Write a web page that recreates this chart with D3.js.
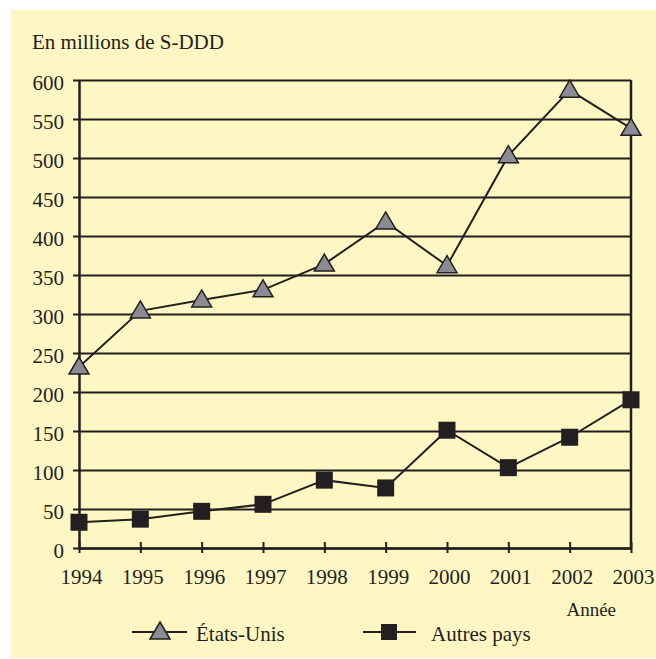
<!DOCTYPE html>
<html>
<head>
<meta charset="utf-8">
<script src="https://cdn.jsdelivr.net/npm/d3@7"></script>
<style>
  body { margin: 0; background: #fff; }
  text { font-family: "Liberation Serif", "Times New Roman", serif; fill: #231f20; }
</style>
</head>
<body>
<div id="chart"></div>
<script>
var years = [1994, 1995, 1996, 1997, 1998, 1999, 2000, 2001, 2002, 2003];
var etatsUnis = [232, 304, 318, 331, 364, 418, 362, 503, 587, 538];
var autresPays = [33, 37, 47, 56, 87, 77, 151, 103, 142, 190];
var yTicks = [0, 50, 100, 150, 200, 250, 300, 350, 400, 450, 500, 550, 600];

var W = 656, H = 659;
var ink = '#231f20';
var margin = { left: 79, top: 80, right: 25, bottom: 111 };
var width = W - margin.left - margin.right,
  height = H - margin.top - margin.bottom;

var root = d3.select('#chart').append('svg').attr('width', W).attr('height', H);

root.append('rect')
  .attr('x', 11).attr('y', 10)
  .attr('width', W - 11).attr('height', 648)
  .attr('fill', '#fff7c3');

root.append('text')
  .attr('x', 32).attr('y', 49)
  .style('font-size', '21px')
  .text('En millions de S-DDD');

var svg = root.append('g')
  .attr('transform', 'translate(' + margin.left + ',' + margin.top + ')');

var x = d3.scalePoint().domain(years).range([0, width]);
var y = d3.scaleLinear().domain([0, 600]).range([height, 0]);

// horizontal grid
svg.append('g')
  .call(d3.axisLeft(y).tickValues(yTicks).tickSize(-width).tickFormat(''))
  .call(g => g.select('.domain').remove())
  .selectAll('line').attr('stroke', ink).attr('stroke-width', 2);

// right border
svg.append('line')
  .attr('x1', width).attr('x2', width)
  .attr('y1', 0).attr('y2', height)
  .attr('stroke', ink).attr('stroke-width', 2.5);

var yAxis = svg.append('g')
  .call(d3.axisLeft(y).tickValues(yTicks).tickSize(6).tickPadding(9).tickSizeOuter(0));
yAxis.select('.domain').attr('stroke', ink).attr('stroke-width', 2.5);
yAxis.selectAll('line').attr('stroke', ink).attr('stroke-width', 2);
yAxis.selectAll('text').style('font-size', '21px').attr('dy', '0.45em');

var xAxis = svg.append('g')
  .attr('transform', 'translate(0,' + height + ')')
  .call(d3.axisBottom(x).tickSize(5).tickPadding(16).tickSizeOuter(0));
xAxis.select('.domain').attr('stroke', ink).attr('stroke-width', 2.5);
xAxis.selectAll('.tick line').attr('y1', -6).attr('stroke', ink).attr('stroke-width', 2);
xAxis.selectAll('text').style('font-size', '21px').attr('dx', '2');

root.append('text')
  .attr('x', 616).attr('y', 616)
  .attr('text-anchor', 'end')
  .style('font-size', '19px')
  .text('Année');

var line = d3.line().x((d, i) => x(years[i])).y(d => y(d));

svg.append('path').datum(etatsUnis)
  .attr('fill', 'none').attr('stroke', ink).attr('stroke-width', 2)
  .attr('d', line);
svg.append('path').datum(autresPays)
  .attr('fill', 'none').attr('stroke', ink).attr('stroke-width', 2)
  .attr('d', line);

var tri = 'M0,-10L10,7L-10,7Z';

svg.append('g').selectAll('path')
  .data(etatsUnis)
  .enter()
  .append('path')
  .attr('d', tri)
  .attr('transform', (d, i) => 'translate(' + x(years[i]) + ',' + y(d) + ')')
  .attr('fill', '#8b8b93').attr('stroke', ink).attr('stroke-width', 1.5);

svg.append('g').selectAll('rect')
  .data(autresPays)
  .enter()
  .append('rect')
  .attr('x', (d, i) => x(years[i]) - 8.5)
  .attr('y', d => y(d) - 8.5)
  .attr('width', 17).attr('height', 17)
  .attr('fill', ink);

// legend
var legend = root.append('g');
var l1 = legend.append('g').attr('transform', 'translate(160,632)');
l1.append('line').attr('x1', -28).attr('x2', 27)
  .attr('stroke', ink).attr('stroke-width', 2);
l1.append('path').attr('d', tri)
  .attr('fill', '#8b8b93').attr('stroke', ink).attr('stroke-width', 1.5);
l1.append('text').attr('x', 36).attr('y', 9).style('font-size', '21px').text('États-Unis');

var l2 = legend.append('g').attr('transform', 'translate(389,632)');
l2.append('line').attr('x1', -26).attr('x2', 27)
  .attr('stroke', ink).attr('stroke-width', 2);
l2.append('rect').attr('x', -8).attr('y', -8).attr('width', 16).attr('height', 16).attr('fill', ink);
l2.append('text').attr('x', 42).attr('y', 9).style('font-size', '21px').text('Autres pays');
</script>
</body>
</html>
